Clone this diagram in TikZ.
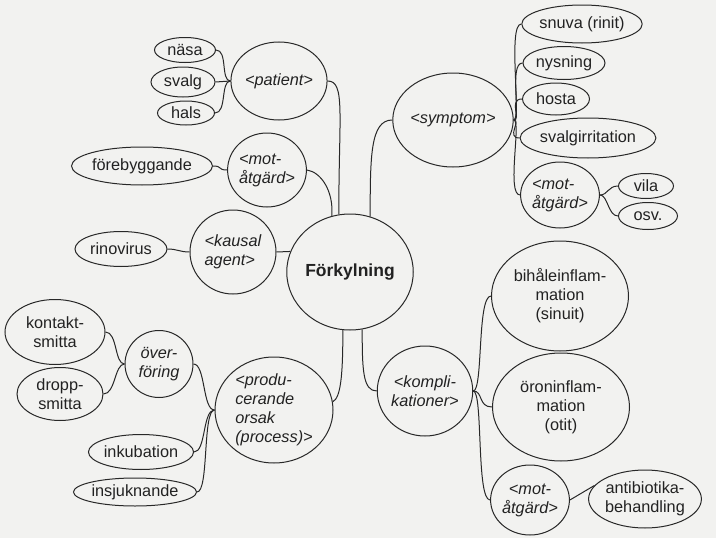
\documentclass[tikz,border=0pt]{standalone}
\usepackage{fontspec}
\setmainfont{Liberation Sans}
\usetikzlibrary{shapes.geometric}
\definecolor{paper}{RGB}{242,242,240}
\definecolor{ink}{RGB}{34,34,34}
\definecolor{linec}{RGB}{40,40,40}
\tikzset{
  bub/.style={draw=linec, line width=1pt, ellipse, inner sep=0pt, fill=paper,
              text=ink, align=center, font=\fontsize{16.3}{19}\selectfont},
  sz/.style 2 args={minimum width=#1pt, minimum height=#2pt},
  tag/.style={font=\fontsize{16.3}{19}\selectfont\itshape},
  lft/.style={align=left},
  con/.style={draw=linec, line width=1pt},
}
\begin{document}
\begin{tikzpicture}[x=1pt, y=-1pt]
\fill[paper] (0,0) rectangle (716,538);
\useasboundingbox (0,0) rectangle (716,538);

% centre concept
\node[bub, sz={116}{116}, font=\fontsize{17.5}{20}\selectfont\bfseries] (fork) at (350,272) {Förkylning};

% patient branch
\node[bub, sz={80}{78}, tag] (patient) at (279,81) {<patient>};
\node[bub, sz={61}{25}] (nasa) at (185,50) {näsa};
\node[bub, sz={64}{30}] (svalg) at (183,82) {svalg};
\node[bub, sz={57}{24}] (hals) at (186,113) {hals};

% preventive measure branch
\node[bub, sz={74}{74}, tag, lft] (motL) at (267,170) {<mot-\\åtgärd>};
\node[bub, sz={129}{38}] (foreb) at (142,166) {förebyggande};

% causal agent branch
\node[bub, sz={86}{84}, tag, lft] (kausal) at (233,252) {<kausal\\agent>};
\node[bub, sz={92}{35}] (rino) at (121,249) {rinovirus};

% symptom branch
\node[bub, sz={95}{94}, tag] (symptom) at (453,120) {<symptom>};
\node[bub, sz={118}{38}] (snuva) at (582,24) {snuva (rinit)};
\node[bub, sz={82}{33}] (nysning) at (564,63) {nysning};
\node[bub, sz={67}{32}] (hosta) at (556,99) {hosta};
\node[bub, sz={131}{40}] (svalgirr) at (588,138) {svalgirritation};
\node[bub, sz={76}{66}, tag, lft] (motR) at (560,195) {<mot-\\åtgärd>};
\node[bub, sz={55}{25}] (vila) at (646,186) {vila};
\node[bub, sz={59}{27}] (osv) at (648,216) {osv.};

% producing cause branch
\node[bub, sz={118}{106}, tag, lft] (produ) at (274,410) {<produ-\\cerande\\orsak\\(process)>};
\node[bub, sz={68}{67}, tag] (over) at (159,364) {över-\\föring};
\node[bub, sz={100}{65}] (kontakt) at (55,332) {kontakt-\\smitta};
\node[bub, sz={86}{53}] (dropp) at (60,394) {dropp-\\smitta};
\node[bub, sz={105}{35}] (inkub) at (141,452) {inkubation};
\node[bub, sz={117}{28}] (insjuk) at (135,492) {insjuknande};

% complications branch
\node[bub, sz={88}{90}, tag] (kompli) at (425,391) {<kompli-\\kationer>};
\node[bub, sz={137}{110}] (bihale) at (560,296) {bihåleinflam-\\mation\\(sinuit)};
\node[bub, sz={137}{108}] (oron) at (561,407) {öroninflam-\\mation\\(otit)};
\node[bub, sz={77}{70}, tag] (motB) at (530,500) {<mot-\\åtgärd>};
\node[bub, sz={112}{58}] (antib) at (645,499) {antibiotika-\\behandling};

% connectors
\draw[con] (nasa.east) .. controls +(12,0) and +(-10,0) .. (patient.west);
\draw[con] (svalg.east) -- (patient.west);
\draw[con] (hals.east) .. controls +(12,0) and +(-10,0) .. (patient.west);
\draw[con] (foreb.east) .. controls +(10,0) and +(-10,0) .. (motL.west);
\draw[con] (rino.east) .. controls +(10,0) and +(-10,0) .. (kausal.west);

\draw[con] (patient.east) .. controls +(18,0) and +(0,-100) .. (fork.101);
\draw[con] (motL.east) .. controls +(14,2) and +(2,-25) .. (fork.108);
\draw[con] (kausal.east) -- (fork.161);
\draw[con] (fork.70) .. controls +(0,-60) and +(-22,0) .. (symptom.west);
\draw[con] (fork.282) .. controls +(0,40) and +(-14,0) .. (kompli.west);
\draw[con] (fork.263) .. controls +(0,45) and +(8,-4) .. (produ.8);

\foreach \t in {snuva,nysning,hosta,svalgirr,motR}
  \draw[con] (symptom.east) .. controls +(8,0) and +(-14,0) .. (\t.west);
\foreach \t in {vila,osv}
  \draw[con] (motR.east) .. controls +(8,0) and +(-10,0) .. (\t.west);

\foreach \t in {kontakt,dropp}
  \draw[con] (\t.east) .. controls +(12,0) and +(-10,0) .. (over.west);
\foreach \t in {over,inkub,insjuk}
  \draw[con] (\t.east) .. controls +(12,0) and +(-12,0) .. (produ.west);

\foreach \t in {bihale,oron,motB}
  \draw[con] (kompli.east) .. controls +(10,0) and +(-14,0) .. (\t.west);
\draw[con] (motB.east) -- (antib.165);
\end{tikzpicture}
\end{document}
